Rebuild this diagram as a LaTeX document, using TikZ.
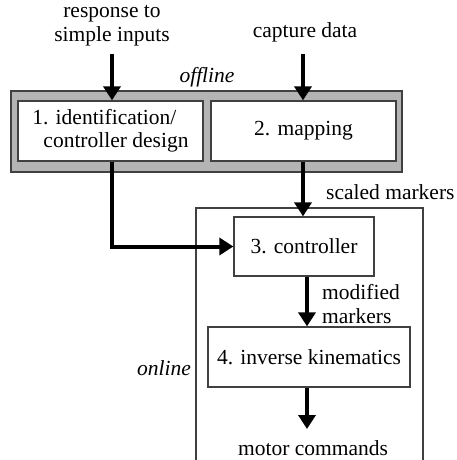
\documentclass[tikz,border=0pt]{standalone}
\usepackage{fontspec}
\setmainfont{Liberation Serif}
\usetikzlibrary{arrows.meta,positioning}
\definecolor{boxgray}{HTML}{B4B4B4}
\definecolor{edgegray}{HTML}{404040}
\tikzset{
  every node/.style={font=\fontsize{21.5}{24}\selectfont},
  whitebox/.style={draw=edgegray, line width=1.3pt, fill=white, inner sep=0pt, align=center},
  flow/.style={line width=4pt, -{Triangle[width=17pt,length=14pt]}},
  lbl/.style={inner sep=0pt},
}
\begin{document}
\begin{tikzpicture}[x=1pt,y=-1pt]
\useasboundingbox (0,0) rectangle (456,460);
\begin{scope}
\clip (0,0) rectangle (456,460);
% offline gray panel
\draw[draw=edgegray, line width=1.3pt, fill=boxgray] (11,91) rectangle (402,172);
% online frame
\draw[draw=edgegray, line width=1.1pt] (196,208) rectangle (423,480);
\end{scope}
% boxes
\node[whitebox, minimum width=185pt, minimum height=60pt] (b1) at (110.5,131)
  {\begin{tabular}{@{}l@{}}1. identification/\\[-1pt]\hspace*{11pt}controller design\end{tabular}};
\node[whitebox, minimum width=185pt, minimum height=60pt] (b2) at (303.5,131) {2. mapping};
\node[whitebox, minimum width=140pt, minimum height=59pt] (ctrl) at (304,246.5) {3. controller};
\node[whitebox, minimum width=202pt, minimum height=60pt] (ik) at (309,357) {4. inverse kinematics};
% labels
\node[lbl, align=center] (resp) at (112,26) {response to\\simple inputs};
\node[lbl] (cap) at (305,32) {capture data};
\node[lbl] (off) at (207,77) {\itshape offline};
\node[lbl, anchor=west] (scaled) at (326,192) {scaled markers};
\node[lbl, anchor=west, align=left] (mod) at (322,304) {modified\\markers};
\node[lbl, anchor=east] (onl) at (191,368) {\itshape online};
\node[lbl] (motor) at (313,448) {motor commands};
% connector endpoints
\coordinate (in1) at (112,54);
\coordinate (in2) at (303,54);
\coordinate (out) at (307,429);
% arrows
\draw[flow] (in1) -- (in1 |- b1.north);
\draw[flow] (in2) -- (in2 |- b2.north);
\draw[flow] (b2.south -| in2) -- (in2 |- ctrl.north);
\draw[flow] (b1.south -| in1) |- (ctrl.west);
\draw[flow] (ctrl.south -| out) -- (out |- ik.north);
\draw[flow] (ik.south -| out) -- (out);
\end{tikzpicture}
\end{document}
